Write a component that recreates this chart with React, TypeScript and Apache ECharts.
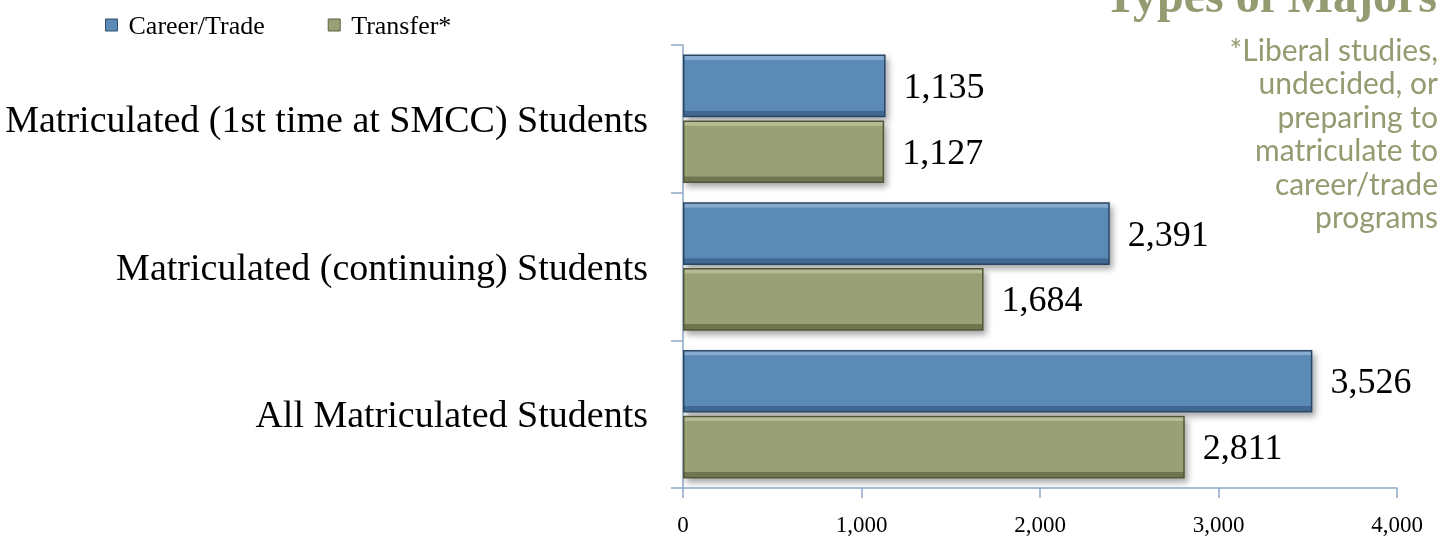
import React, { useEffect, useRef } from "react";
import * as echarts from "echarts";

const categories = [
  "All Matriculated Students",
  "Matriculated (continuing) Students",
  "Matriculated (1st time at SMCC) Students",
];
const careerTrade = [3526, 2391, 1135];
const transfer = [2811, 1684, 1127];
const seriesNames = ["Career/Trade", "Transfer*"];
const xTicks = [0, 1000, 2000, 3000, 4000];
const titleText = "Types of Majors";
const noteLines = [
  "*Liberal studies,",
  "undecided, or",
  "preparing to",
  "matriculate to",
  "career/trade",
  "programs",
];

const SERIF = "'Liberation Serif', 'Times New Roman', serif";
const OLIVE_TEXT = "#939B70";

export default function App() {
  const ref = useRef<HTMLDivElement>(null);
  useEffect(() => {
    if (!ref.current) return;
    const chart = echarts.init(ref.current, undefined, { renderer: "svg" });
    const fmt = (v: number) => v.toLocaleString("en-US");
    const bevel = (light: string, base: string, dark: string) =>
      new echarts.graphic.LinearGradient(0, 0, 0, 1, [
        { offset: 0, color: light },
        { offset: 0.07, color: light },
        { offset: 0.08, color: base },
        { offset: 0.9, color: base },
        { offset: 0.91, color: dark },
        { offset: 1, color: dark },
      ]);
    const barStyle = (light: string, base: string, dark: string, border: string) => ({
      color: bevel(light, base, dark),
      borderColor: border,
      borderWidth: 1.5,
      shadowColor: "rgba(0,0,0,0.35)",
      shadowBlur: 6,
      shadowOffsetX: 3,
      shadowOffsetY: 4,
    });
    const valueLabel = {
      show: true,
      position: "right",
      distance: 18,
      fontFamily: SERIF,
      fontSize: 36,
      color: "#000",
      formatter: (p: any) => fmt(p.value),
    };
    chart.setOption({
      animation: false,
      legend: {
        left: 100,
        top: 7,
        itemWidth: 12,
        itemHeight: 12,
        itemGap: 63,
        icon: "rect",
        textStyle: { fontFamily: SERIF, fontSize: 26, color: "#000", padding: [0, 0, 0, 6] },
        data: [
          { name: seriesNames[0], itemStyle: { color: "#5B8AB7", borderColor: "#2F4E6E", borderWidth: 1 } },
          { name: seriesNames[1], itemStyle: { color: "#9AA076", borderColor: "#5C6142", borderWidth: 1 } },
        ],
      },
      grid: { left: 683, right: 58, top: 45, bottom: 51, containLabel: false },
      xAxis: {
        type: "value",
        min: 0,
        max: 4000,
        interval: 1000,
        axisLine: { show: true, lineStyle: { color: "#8EA7C6", width: 1.5 } },
        axisTick: { show: true, length: 10, lineStyle: { color: "#8EA7C6", width: 1.5 } },
        splitLine: { show: false },
        axisLabel: {
          fontFamily: SERIF,
          fontSize: 23,
          color: "#000",
          margin: 25,
          formatter: (v: number) => (xTicks.includes(v) ? fmt(v) : ""),
        },
      },
      yAxis: {
        type: "category",
        data: categories,
        axisLine: { show: true, lineStyle: { color: "#8EA7C6", width: 1.5 } },
        axisTick: { show: true, length: 12, lineStyle: { color: "#8EA7C6", width: 1.5 } },
        axisLabel: { fontFamily: SERIF, fontSize: 38, color: "#000", margin: 35 },
      },
      series: [
        {
          name: seriesNames[0],
          type: "bar",
          data: careerTrade,
          barGap: "5%",
          barCategoryGap: "13%",
          itemStyle: barStyle("#86ABCF", "#5B8AB7", "#3F6891", "#2A4766"),
          label: valueLabel,
        },
        {
          name: seriesNames[1],
          type: "bar",
          data: transfer,
          itemStyle: barStyle("#B6BB93", "#9AA076", "#6E7450", "#51563A"),
          label: valueLabel,
        },
      ],
      graphic: [
        {
          type: "text",
          right: 18,
          top: -29,
          style: {
            text: titleText,
            font: `bold 48px ${SERIF}`,
            fill: OLIVE_TEXT,
          },
        },
        ...noteLines.map((line, i) => ({
          type: "text",
          right: 17,
          top: 34 + i * 33.4,
          style: {
            text: line,
            font: `30px Lato, 'Noto Sans', sans-serif`,
            fill: OLIVE_TEXT,
          },
        })),
      ],
    });
    return () => chart.dispose();
  }, []);
  return (
    <div
      ref={ref}
      style={{ position: "fixed", left: 0, top: 0, width: 1455, height: 539 }}
    />
  );
}
